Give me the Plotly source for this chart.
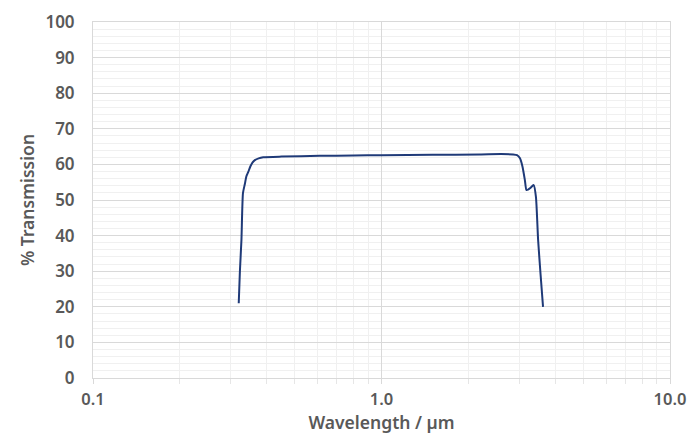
import plotly.graph_objects as go

wavelength_um = [0.320, 0.323, 0.327, 0.331, 0.336, 0.340, 0.345, 0.351, 0.357, 0.364, 0.375,
                 0.389, 0.45, 0.611, 0.8, 1.0, 1.5, 2.19, 2.6, 2.86, 2.95, 3.02, 3.08, 3.14,
                 3.18, 3.22, 3.27, 3.33, 3.37, 3.43, 3.49, 3.56, 3.63]
transmission = [21.0, 30.0, 38.8, 51.9, 54.5, 56.6, 57.8, 59.4, 60.5, 61.2, 61.7,
                62.0, 62.2, 62.4, 62.5, 62.6, 62.7, 62.8, 62.9, 62.8, 62.6, 61.7, 59.4, 55.6,
                52.8, 52.9, 53.3, 53.9, 54.2, 50.9, 38.8, 29.0, 20.0]

x_tickvals = [0.1, 1.0, 10.0]
x_ticktext = ["0.1", "1.0", "10.0"]
y_tickvals = [0, 10, 20, 30, 40, 50, 60, 70, 80, 90, 100]

font_family = "'Noto Sans', 'DejaVu Sans', sans-serif"
txt_color = "#595959"
tick_font = dict(size=17, color=txt_color, family=font_family, weight=600)
xtick_font = dict(size=16.5, color=txt_color, family=font_family, weight=600)
title_font = dict(size=17.5, color=txt_color, family=font_family, weight=600)

fig = go.Figure()
fig.add_trace(go.Scatter(
    x=wavelength_um, y=transmission, mode="lines",
    line=dict(color="#1f3a78", width=2, shape="spline", smoothing=0.6),
    showlegend=False, hoverinfo="skip"))

fig.update_layout(
    width=691, height=434,
    margin=dict(l=93, r=21, t=22, b=56),
    paper_bgcolor="white", plot_bgcolor="white",
    font=dict(family=font_family, color=txt_color),
    xaxis=dict(
        type="log", range=[-1, 1], automargin=False,
        tickvals=x_tickvals, ticktext=x_ticktext,
        tickfont=xtick_font, ticklabelstandoff=1,
        showgrid=True, gridcolor="#d9d9d9", gridwidth=1,
        showline=True, linecolor="#d9d9d9", linewidth=1, mirror=True,
        ticks="outside", ticklen=5, tickcolor="#d9d9d9",
        minor=dict(dtick="D1", showgrid=True, gridcolor="#f0f0f0", gridwidth=1,
                   ticks="outside", ticklen=5, tickcolor="#e6e6e6"),
        title=dict(text="Wavelength / µm", font=title_font, standoff=11),
        zeroline=False,
    ),
    yaxis=dict(
        range=[0, 100], automargin=False,
        tickvals=y_tickvals,
        tickfont=tick_font,
        showgrid=True, gridcolor="#d9d9d9", gridwidth=1,
        showline=True, linecolor="#d9d9d9", linewidth=1, mirror=True,
        ticks="", ticklabelstandoff=14,
        minor=dict(dtick=2, showgrid=True, gridcolor="#f0f0f0", gridwidth=1),
        title=dict(text="% Transmission", font=title_font, standoff=6),
        zeroline=False,
    ),
)

fig.write_html("out.html", config={"displayModeBar": False},
               post_script="document.body.style.margin='0';")
